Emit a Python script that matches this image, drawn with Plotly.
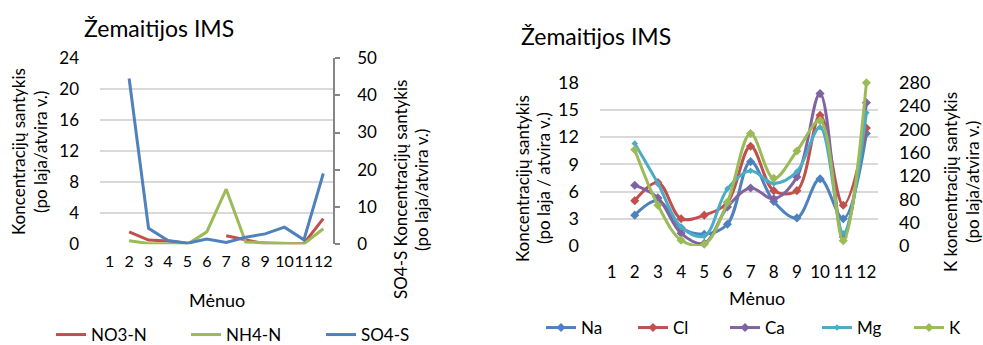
import plotly.graph_objects as go

W, H = 983, 345
FONT = "Lato"

months = list(range(1, 13))
month_labels = [str(m) for m in months]

# Left chart (left axis): NO3-N, NH4-N ; right axis: SO4-S
no3_n = [None, 1.6, 0.55, 0.42, 0.15, None, 1.1, 0.6, 0.05, 0.05, 0.1, 3.3]
nh4_n = [None, 0.45, 0.1, 0.05, 0.0, 1.6, 7.1, 0.3, 0.2, 0.15, 0.05, 2.0]
so4_s = [None, 44.5, 4.3, 1.0, 0.3, 1.4, 0.5, 1.9, 2.8, 4.6, 1.2, 19.0]

# Right chart (left axis): Na, Cl, Ca, Mg ; right axis: K
na = [None, 3.4, 5.0, 2.0, 1.3, 2.4, 9.3, 4.9, 3.1, 7.4, 3.0, 12.4]
cl = [None, 5.0, 7.0, 3.0, 3.4, 4.8, 11.0, 6.1, 6.1, 14.4, 4.5, 13.0]
ca = [None, 6.7, 5.3, 1.4, 0.3, 4.3, 6.4, 5.2, 7.6, 16.8, 1.0, 15.8]
mg = [None, 11.3, 6.9, 2.1, 1.1, 6.3, 8.3, 6.9, 8.2, 13.1, 1.4, 14.7]
k = [None, 165, 70, 10, 3, 75, 193, 116, 163, 215, 9, 280]

BLUE = "#4F81BD"
RED = "#C0504D"
GREEN = "#9BBB59"
PURPLE = "#8064A2"
AQUA = "#4BACC6"
GRID = "#D9D9D9"


def px(x):
    return x / W


def py(y):
    return (H - y) / H


fig = go.Figure()

# ---- left chart traces ----
fig.add_trace(go.Scatter(x=months, y=no3_n, name="NO3-N", mode="lines",
                         line=dict(color=RED, width=3), xaxis="x", yaxis="y",
                         legend="legend", connectgaps=False))
fig.add_trace(go.Scatter(x=months, y=nh4_n, name="NH4-N", mode="lines",
                         line=dict(color=GREEN, width=3), xaxis="x", yaxis="y",
                         legend="legend"))
fig.add_trace(go.Scatter(x=months, y=so4_s, name="SO4-S", mode="lines",
                         line=dict(color=BLUE, width=3), xaxis="x", yaxis="y2",
                         legend="legend"))

# ---- right chart traces ----
for name, vals, col, ax, msize in [("Na", na, BLUE, "y3", 7), ("Cl", cl, RED, "y3", 7),
                                   ("Ca", ca, PURPLE, "y3", 7), ("Mg", mg, AQUA, "y3", 5),
                                   ("K", k, GREEN, "y4", 7)]:
    fig.add_trace(go.Scatter(x=months, y=vals, name=name, mode="lines+markers",
                             line=dict(color=col, width=3, shape="spline", smoothing=1.0),
                             marker=dict(symbol="diamond", size=msize, color=col),
                             cliponaxis=False,
                             xaxis="x2", yaxis=ax, legend="legend2"))

tickfont = dict(family=FONT, size=17, color="#000000")

fig.update_layout(
    width=W, height=H,
    margin=dict(l=0, r=0, t=0, b=0, autoexpand=False),
    paper_bgcolor="white", plot_bgcolor="white",
    font=dict(family=FONT, color="#000000"),
    xaxis=dict(domain=[px(100), px(333)], range=[0.5, 12.5], tickvals=months,
               ticktext=month_labels, showgrid=False, zeroline=False, showline=False,
               ticks="", tickangle=0, tickfont=dict(family=FONT, size=16),
               ticklabelstandoff=6, anchor="y", automargin=False),
    yaxis=dict(domain=[py(244.3), py(58)], range=[0, 24], dtick=4, showgrid=True,
               gridcolor=GRID, gridwidth=2, zeroline=False, showline=False, ticks="",
               tickfont=tickfont, ticklabelstandoff=20, anchor="x", automargin=False),
    yaxis2=dict(overlaying="y", side="right", range=[0, 50], dtick=10, showgrid=False,
                zeroline=False, showline=True, linecolor="#868686", linewidth=1.5,
                ticks="outside", ticklen=5, tickcolor="#868686", tickwidth=1.5,
                tickfont=tickfont, ticklabelstandoff=14, anchor="x", automargin=False),
    xaxis2=dict(domain=[px(600), px(878)], range=[0.5, 12.5], tickvals=months,
                ticktext=month_labels, showgrid=False, zeroline=False, showline=False,
                ticks="", tickangle=0, tickfont=dict(family=FONT, size=17),
                ticklabelstandoff=14, anchor="y3", automargin=False),
    yaxis3=dict(domain=[py(246), py(82.7)], range=[0, 18], dtick=3, showgrid=True,
                gridcolor=GRID, gridwidth=2, zeroline=False, showline=False, ticks="",
                tickfont=dict(family=FONT, size=18), ticklabelstandoff=20, anchor="x2",
                automargin=False),
    yaxis4=dict(overlaying="y3", side="right", range=[0, 280], dtick=40, showgrid=False,
                zeroline=False, showline=False, ticks="",
                tickfont=dict(family=FONT, size=18), ticklabelstandoff=20, anchor="x2",
                automargin=False),
    legend=dict(orientation="h", x=px(51), y=py(335), xanchor="left", yanchor="middle",
                font=dict(family=FONT, size=17), entrywidth=90, entrywidthmode="pixels",
                bgcolor="rgba(0,0,0,0)", itemwidth=30, tracegroupgap=0),
    legend2=dict(orientation="h", x=px(541), y=py(328), xanchor="left", yanchor="middle",
                 font=dict(family=FONT, size=17), entrywidth=47, entrywidthmode="pixels",
                 bgcolor="rgba(0,0,0,0)", itemwidth=30),
    showlegend=True,
)

annotations = [
    dict(text="Žemaitijos IMS", x=px(82), y=py(28), xanchor="left", yanchor="middle",
         font=dict(size=23)),
    dict(text="Žemaitijos IMS", x=px(519), y=py(36), xanchor="left", yanchor="middle",
         font=dict(size=23)),
    dict(text="Koncentracijų santykis", x=px(18), y=py(152), textangle=-90,
         font=dict(size=17)),
    dict(text="(po laja/atvira v.)", x=px(40), y=py(152), textangle=-90,
         font=dict(size=17)),
    dict(text="SO4-S Koncentracijų santykis", x=px(400), y=py(190), textangle=-90,
         font=dict(size=17)),
    dict(text="(po laja/atvira v.)", x=px(421), y=py(190), textangle=-90,
         font=dict(size=17)),
    dict(text="Mėnuo", x=px(217), y=py(300), font=dict(size=18)),
    dict(text="Koncentracijų santykis", x=px(522), y=py(179), textangle=-90,
         font=dict(size=17)),
    dict(text="(po laja / atvira v.)", x=px(543), y=py(178), textangle=-90,
         font=dict(size=17)),
    dict(text="K koncentracijų santykis", x=px(950), y=py(182), textangle=-90,
         font=dict(size=17)),
    dict(text="(po laja/atvira v.)", x=px(972), y=py(182), textangle=-90,
         font=dict(size=17)),
    dict(text="Mėnuo", x=px(757), y=py(298), font=dict(size=18)),
]
for a in annotations:
    a.setdefault("xref", "paper")
    a.setdefault("yref", "paper")
    a.setdefault("showarrow", False)
    a.setdefault("xanchor", "center")
    a.setdefault("yanchor", "middle")
    a["font"] = dict(family=FONT, color="#000000", **a["font"])
fig.update_layout(annotations=annotations)

fig.write_html("out.html",
               config={"displayModeBar": False},
               post_script="document.body.style.margin='0';document.body.style.padding='0';")
